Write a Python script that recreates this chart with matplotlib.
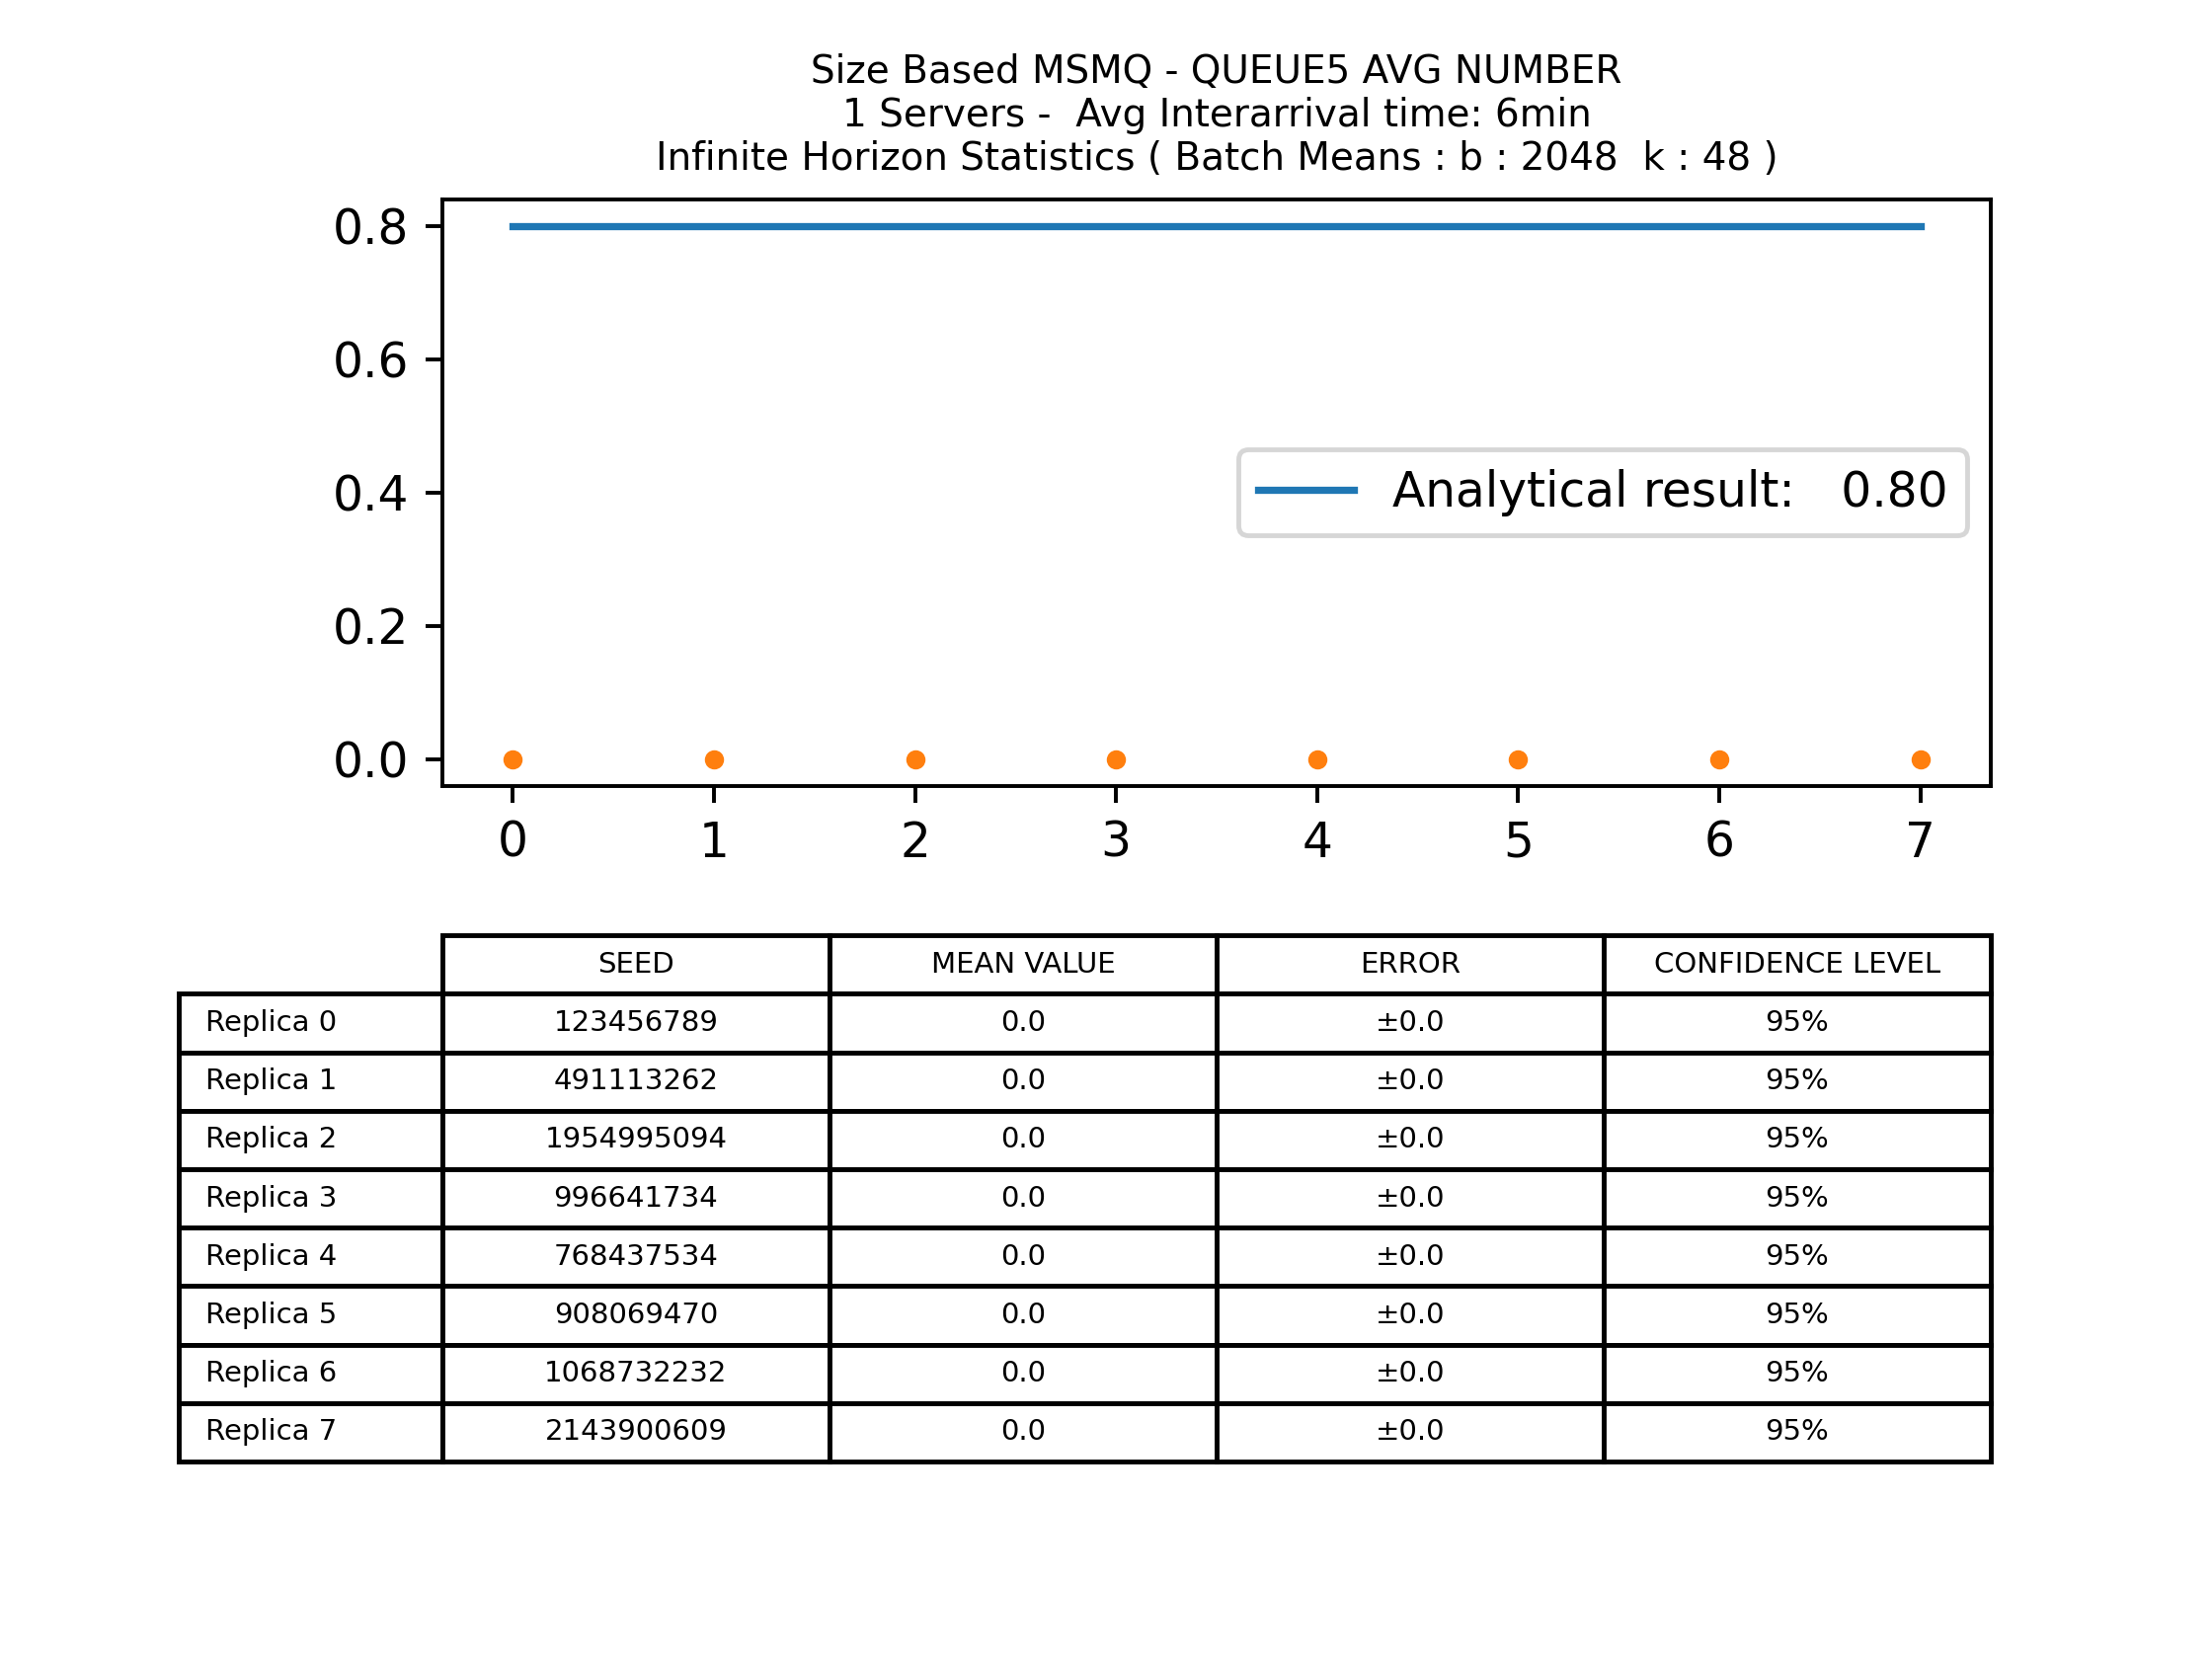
import matplotlib.pyplot as plt
from matplotlib.table import Table

replicas = [0, 1, 2, 3, 4, 5, 6, 7]
seeds = [123456789, 491113262, 1954995094, 996641734,
         768437534, 908069470, 1068732232, 2143900609]
means = [0.0, 0.0, 0.0, 0.0, 0.0, 0.0, 0.0, 0.0]
errors = [0.0, 0.0, 0.0, 0.0, 0.0, 0.0, 0.0, 0.0]
analytical = 0.80
col_labels = ['SEED', 'MEAN VALUE', 'ERROR', 'CONFIDENCE LEVEL']

fig = plt.figure(figsize=(6.4, 4.8), dpi=350)
ax = fig.add_axes([0.2, 0.5264, 0.7, 0.3536])

ax.plot(replicas, [analytical] * len(replicas),
        label='Analytical result:   %.2f' % analytical)
ax.errorbar(replicas, means, yerr=errors, fmt='.', color='C1')
ax.legend(loc='center right')
ax.set_title('Size Based MSMQ - QUEUE5 AVG NUMBER\n'
             '1 Servers -  Avg Interarrival time: 6min\n'
             'Infinite Horizon Statistics ( Batch Means : b : 2048  k : 48 )',
             fontsize=8)

# table under the plot, first column holds the replica names
lab_w = 0.1703
col_w = 0.25
row_h = 0.1
tab = Table(ax, bbox=[-lab_w, -1.152, 1 + lab_w, 0.897])
corner = tab.add_cell(0, 0, width=lab_w, height=row_h, text='')
corner.visible_edges = 'open'
for j in range(len(col_labels)):
    tab.add_cell(0, j + 1, width=col_w, height=row_h, text=col_labels[j], loc='center')
for i in range(len(replicas)):
    row = [str(seeds[i]), str(means[i]), '±' + str(errors[i]), '95%']
    tab.add_cell(i + 1, 0, width=lab_w, height=row_h,
                 text='Replica %d' % replicas[i], loc='left')
    for j in range(len(row)):
        tab.add_cell(i + 1, j + 1, width=col_w, height=row_h, text=row[j], loc='center')
tab.auto_set_font_size(False)
tab.set_fontsize(6)
ax.add_table(tab)

fig.savefig('out.png')
